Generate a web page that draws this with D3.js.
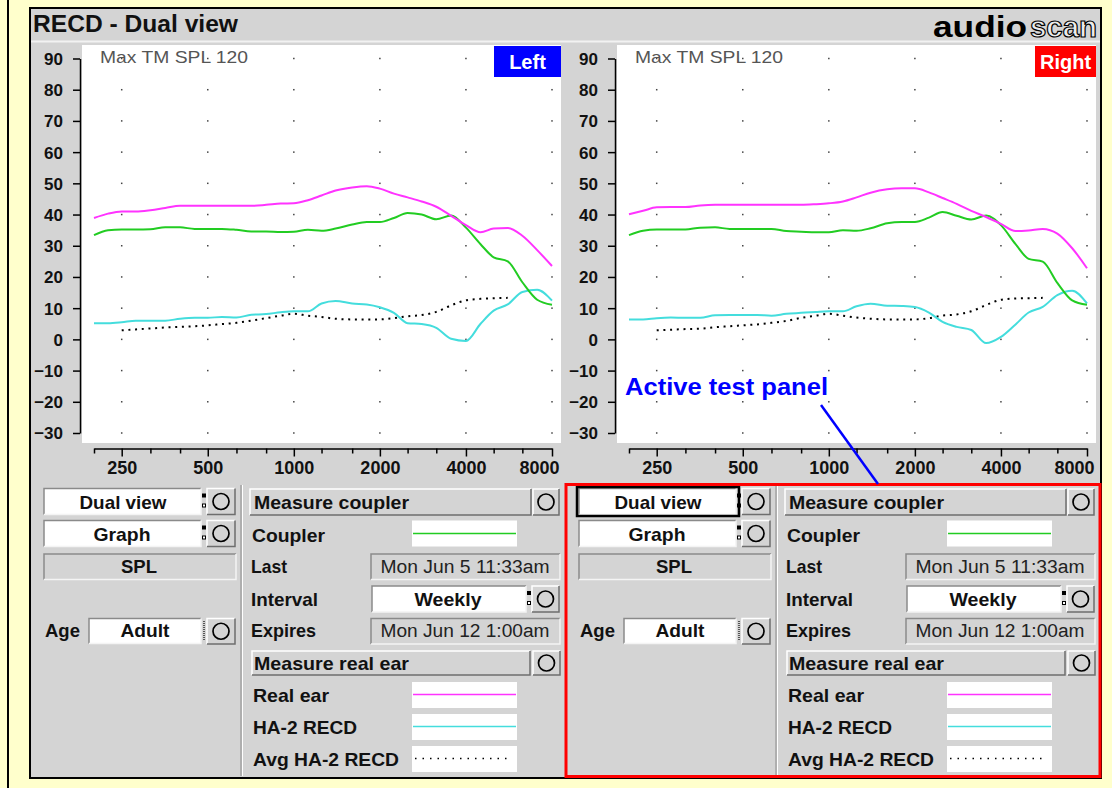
<!DOCTYPE html>
<html>
<head>
<meta charset="utf-8">
<script src="https://cdn.jsdelivr.net/npm/d3@7"></script>
<style>
  body { margin: 0; background: #ffffcc; }
  text { font-family: "Liberation Sans", Arial, sans-serif; }
</style>
</head>
<body>
<svg id="chart" width="1112" height="788"></svg>
<script>
// frequencies (Hz), 1/6 octave steps
const freqs = [200, 224, 250, 280, 315, 355, 400, 450, 500, 560, 630, 710, 800, 900, 1000, 1120, 1250,
  1400, 1600, 1800, 2000, 2240, 2500, 2800, 3150, 3550, 4000, 4500, 5000, 5600, 6300, 7100, 8000];

// left ear (dB SPL)
const leftRealEar = [38.9, 40.3, 41.0, 41.0, 41.4, 42.1, 42.8, 42.8, 42.8, 42.8, 42.8, 42.8, 43.1, 43.5, 43.6, 44.6, 46.1,
  47.7, 48.7, 49.1, 48.3, 46.7, 45.5, 44.2, 42.5, 39.6, 36.6, 34.3, 35.5, 35.7, 33.2, 28.6, 23.5];
const leftCoupler = [33.4, 35.0, 35.2, 35.2, 35.3, 35.9, 35.9, 35.4, 35.4, 35.4, 35.1, 34.6, 34.6, 34.4, 34.5, 35.1, 34.8,
  35.5, 36.8, 37.6, 37.6, 38.9, 40.5, 40.0, 38.5, 39.7, 35.8, 30.5, 26.3, 25.0, 18.3, 12.7, 11.1];
const leftRecd = [5.2, 5.2, 5.5, 6.0, 6.0, 6.0, 6.6, 6.9, 6.9, 7.2, 7.0, 7.9, 8.1, 8.7, 9.0, 9.0, 11.5,
  12.3, 11.5, 11.2, 10.3, 8.5, 5.2, 4.9, 3.7, 0.2, -0.5, 5.0, 9.2, 11.2, 15.2, 15.9, 12.4];
const leftAvgRecd = [null, null, 2.9, 3.2, 3.5, 3.8, 4.0, 4.2, 4.5, 4.9, 5.3, 6.0, 6.8, 7.6, 8.2, 7.6, 7.2,
  6.6, 6.4, 6.4, 6.4, 6.8, 7.4, 7.8, 8.8, 10.9, 12.5, 13.0, 13.2, 13.3, null, null, null];

// right ear (dB SPL)
const rightRealEar = [40.1, 41.2, 42.3, 42.4, 42.4, 42.9, 43.1, 43.1, 43.1, 43.1, 43.1, 43.1, 43.1, 43.3, 43.6, 44.2, 45.5,
  47.0, 48.1, 48.4, 48.4, 47.1, 45.3, 43.4, 41.2, 39.2, 37.0, 34.7, 34.9, 35.4, 33.9, 29.2, 22.8];
const rightCoupler = [33.4, 34.8, 35.2, 35.2, 35.2, 35.8, 35.9, 35.4, 35.4, 35.4, 35.4, 34.7, 34.5, 34.3, 34.3, 35.0, 34.8,
  35.6, 37.2, 37.6, 37.6, 39.0, 40.8, 39.6, 38.4, 39.7, 36.6, 30.5, 25.8, 24.9, 18.1, 12.5, 11.1];
const rightRecd = [6.4, 6.4, 6.8, 7.0, 6.9, 6.9, 7.7, 7.8, 7.8, 7.8, 7.6, 8.2, 8.5, 8.8, 9.0, 9.0, 10.6,
  11.4, 10.8, 10.7, 10.4, 8.6, 5.6, 4.0, 3.0, -1.2, 0.8, 4.8, 8.6, 10.4, 14.2, 15.6, 11.5];
const rightAvgRecd = [null, null, 2.9, 3.1, 3.3, 3.4, 3.9, 4.2, 4.5, 4.8, 5.3, 5.9, 6.9, 7.6, 8.2, 7.6, 7.0,
  6.6, 6.4, 6.4, 6.4, 6.8, 7.6, 8.0, 9.0, 11.0, 12.7, 13.1, 13.2, 13.3, null, null, null];

// axis ticks
const yTicks = [90, 80, 70, 60, 50, 40, 30, 20, 10, 0, -10, -20, -30];
const xMajor = [250, 500, 1000, 2000, 4000, 8000];
const xMinor = [200, 315, 400, 630, 800, 1250, 1600, 2500, 3150, 5000, 6300];

const svg = d3.select("#chart");
const GRAY = "#d4d4d4";
const colors = { realEar: "#ff33ff", coupler: "#22cc22", recd: "#44dddd", avg: "#000" };

const x = d3.scaleLog().domain([200, 8000]).range([94, 552]);
const y = d3.scaleLinear().domain([-30, 90]).range([433, 58.5]);
const AXIS_Y = 448.5;

function label(g, px, py, str, o = {}) {
  const t = g.append("text").attr("x", px).attr("y", py).text(str)
    .attr("font-size", o.size || 19)
    .attr("font-weight", o.weight || "bold")
    .attr("fill", o.fill || "#111")
    .attr("text-anchor", o.anchor || "start");
  if (o.len) t.attr("textLength", o.len).attr("lengthAdjust", "spacingAndGlyphs");
  return t;
}

// bevelled boxes
function box(g, bx, by, w, h, fill, raised) {
  g.append("rect").attr("x", bx).attr("y", by).attr("width", w).attr("height", h).attr("fill", fill);
  const hi = raised ? "#ffffff" : "#8a8a8a";
  const lo = raised ? "#6e6e6e" : "#f4f4f4";
  g.append("path").attr("d", `M${bx},${by + h} V${by} H${bx + w}`).attr("stroke", hi).attr("stroke-width", 1.5).attr("fill", "none");
  g.append("path").attr("d", `M${bx + w},${by} V${by + h} H${bx}`).attr("stroke", lo).attr("stroke-width", 1.5).attr("fill", "none");
}

function circleButton(g, bx, by, w, h) {
  box(g, bx, by, w, h, GRAY, true);
  g.append("circle").attr("cx", bx + w / 2).attr("cy", by + h / 2).attr("r", 8)
    .attr("fill", "none").attr("stroke", "#000").attr("stroke-width", 1.7);
}

function colon(g, cx, cy) {
  g.append("rect").attr("x", cx).attr("y", cy - 8).attr("width", 4).attr("height", 4).attr("fill", "#000");
  g.append("rect").attr("x", cx + 0.5).attr("y", cy + 2.5).attr("width", 3).attr("height", 3)
    .attr("fill", "#fff").attr("stroke", "#000").attr("stroke-width", 1);
}

// background frame
svg.append("rect").attr("width", 1112).attr("height", 788).attr("fill", "#ffffcc");
svg.append("rect").attr("x", 7).attr("y", 0).attr("width", 2).attr("height", 788).attr("fill", "#000");
svg.append("rect").attr("x", 30).attr("y", 8).attr("width", 1071).attr("height", 770)
  .attr("fill", GRAY).attr("stroke", "#000").attr("stroke-width", 2);
svg.append("line").attr("x1", 31).attr("x2", 1100).attr("y1", 41.5).attr("y2", 41.5)
  .attr("stroke", "#f2f2f2").attr("stroke-width", 2);

label(svg, 33, 32, "RECD - Dual view", { size: 23, len: 205 });
label(svg, 933, 37, "audio", { size: 30, weight: 900, fill: "#000", len: 94 })
  .attr("font-family", "'DejaVu Sans', sans-serif");
label(svg, 1030, 37, "scan", { size: 30, weight: "bold", fill: "#ececec", len: 67 })
  .attr("font-family", "'DejaVu Sans', sans-serif").attr("stroke", "#000").attr("stroke-width", 1.2);

function drawPanel(dx, side, series, active) {
  const g = svg.append("g").attr("transform", `translate(${dx},0)`);

  // plot background
  g.append("rect").attr("x", 82).attr("y", 45).attr("width", 479).attr("height", 398).attr("fill", "#fff");

  // grid dots
  const dots = [];
  xMajor.forEach(f => yTicks.forEach(v => dots.push([f, v])));
  g.append("g").selectAll("rect").data(dots).enter().append("rect")
    .attr("x", d => x(d[0]) - 0.75).attr("y", d => y(d[1]) - 0.75)
    .attr("width", 1.5).attr("height", 1.5).attr("fill", "#444");

  // y axis
  const ya = g.append("g").attr("transform", "translate(80,0)")
    .call(d3.axisLeft(y).tickValues(yTicks).tickSize(7).tickSizeOuter(0).tickPadding(10));
  ya.select(".domain").attr("stroke", "#000").attr("stroke-width", 1.5);
  ya.selectAll(".tick line").attr("stroke", "#000").attr("stroke-width", 1.5);
  ya.selectAll("text").attr("font-size", 17).attr("font-weight", "bold").attr("fill", "#111")
    .attr("font-family", "'Liberation Sans', Arial, sans-serif").attr("dy", "0.35em");

  // x axis
  const xa = g.append("g").attr("transform", `translate(0,${AXIS_Y})`)
    .call(d3.axisBottom(x).tickValues(xMajor).tickSize(8).tickSizeOuter(0).tickFormat(d3.format("d")));
  xa.select(".domain").attr("stroke", "#000").attr("stroke-width", 1.5);
  xa.selectAll(".tick line").attr("stroke", "#000").attr("stroke-width", 1.5);
  xa.selectAll("text").attr("font-size", 18).attr("font-weight", "bold").attr("fill", "#111")
    .attr("font-family", "'Liberation Sans', Arial, sans-serif").attr("y", 25.5).attr("dy", 0);
  // last label is kept inside the plot width
  xa.selectAll("text").filter(d => d === 8000).attr("text-anchor", "end").attr("x", 7);
  const xm = g.append("g").attr("transform", `translate(0,${AXIS_Y})`)
    .call(d3.axisBottom(x).tickValues(xMinor).tickSize(5).tickSizeOuter(0).tickFormat(""));
  xm.select(".domain").remove();
  xm.selectAll(".tick line").attr("stroke", "#000").attr("stroke-width", 1.5);

  // curves
  const line = d3.line()
    .defined(d => d[1] !== null)
    .x(d => x(d[0])).y(d => y(d[1]))
    .curve(d3.curveMonotoneX);
  const curves = [
    { vals: series.avg, color: colors.avg, dash: "2,4.7" },
    { vals: series.recd, color: colors.recd },
    { vals: series.coupler, color: colors.coupler },
    { vals: series.realEar, color: colors.realEar }
  ];
  g.append("g").selectAll("path").data(curves).enter().append("path")
    .attr("d", c => line(freqs.map((f, i) => [f, c.vals[i]])))
    .attr("fill", "none")
    .attr("stroke", c => c.color)
    .attr("stroke-width", 2)
    .attr("stroke-dasharray", c => c.dash || null);

  label(g, 100, 63, "Max TM SPL 120", { size: 17, weight: "normal", fill: "#555", len: 148 });

  // side tag
  const tagX = side === "Left" ? 494 : 500;
  g.append("rect").attr("x", tagX).attr("y", 46).attr("width", 561 - tagX).attr("height", 31)
    .attr("fill", side === "Left" ? "#0000ff" : "#ff0000");
  label(g, (tagX + 561) / 2, 69, side, { size: 20, fill: "#fff", anchor: "middle" });

  // controls, left column
  box(g, 44, 488.5, 157, 26, "#fff", false);
  label(g, 123, 508.5, "Dual view", { anchor: "middle", len: 87 });
  colon(g, 202, 501.5);
  circleButton(g, 207, 488.5, 28, 26);
  if (active) {
    g.append("rect").attr("x", 42).attr("y", 487).attr("width", 162).attr("height", 29)
      .attr("fill", "none").attr("stroke", "#000").attr("stroke-width", 2.5);
  }

  box(g, 44, 520.5, 157, 26, "#fff", false);
  label(g, 122, 540.5, "Graph", { anchor: "middle", len: 57 });
  colon(g, 202, 533.5);
  circleButton(g, 207, 520.5, 28, 26);

  box(g, 44, 554, 192, 25.5, GRAY, false);
  label(g, 139, 573, "SPL", { anchor: "middle", len: 36 });

  label(g, 45, 637, "Age", { len: 35 });
  box(g, 89, 618.5, 112, 25, "#fff", false);
  label(g, 145, 637, "Adult", { anchor: "middle", len: 49 });
  g.append("line").attr("x1", 204).attr("x2", 204).attr("y1", 621).attr("y2", 641)
    .attr("stroke", "#555").attr("stroke-width", 2).attr("stroke-dasharray", "1,1");
  circleButton(g, 207, 618.5, 28, 25.5);

  g.append("line").attr("x1", 241).attr("x2", 241).attr("y1", 485).attr("y2", 776).attr("stroke", "#8a8a8a");
  g.append("line").attr("x1", 242.5).attr("x2", 242.5).attr("y1", 485).attr("y2", 776).attr("stroke", "#fff");

  // controls, right column
  box(g, 250, 489, 281, 26, GRAY, true);
  label(g, 254, 508.5, "Measure coupler", { len: 155 });
  circleButton(g, 533, 489, 26, 26);

  label(g, 252, 541.5, "Coupler", { len: 73 });
  g.append("rect").attr("x", 412).attr("y", 520.5).attr("width", 105).attr("height", 26).attr("fill", "#fff");
  g.append("line").attr("x1", 413).attr("x2", 516).attr("y1", 533.5).attr("y2", 533.5)
    .attr("stroke", colors.coupler).attr("stroke-width", 1.5);

  label(g, 251, 573, "Last", { len: 36 });
  box(g, 371, 554, 189, 25.5, GRAY, false);
  label(g, 465, 573, "Mon Jun 5 11:33am", { weight: "normal", size: 18, fill: "#222", anchor: "middle", len: 169 });

  label(g, 251, 605.5, "Interval", { len: 67 });
  box(g, 372, 586, 154, 26, "#fff", false);
  label(g, 448, 605.5, "Weekly", { anchor: "middle", len: 67 });
  colon(g, 527, 599);
  circleButton(g, 532, 586, 27, 26);

  label(g, 251, 637, "Expires", { len: 65 });
  box(g, 371, 618.5, 189, 25.5, GRAY, false);
  label(g, 465, 637, "Mon Jun 12 1:00am", { weight: "normal", size: 18, fill: "#222", anchor: "middle", len: 169 });

  box(g, 252, 651, 278, 24, GRAY, true);
  label(g, 254, 669.5, "Measure real ear", { len: 155 });
  circleButton(g, 533, 651, 27, 24);

  const legendRows = [
    { name: "Real ear", len: 76, y: 682, color: colors.realEar },
    { name: "HA-2 RECD", len: 104, y: 714, color: colors.recd },
    { name: "Avg HA-2 RECD", len: 146, y: 746, color: colors.avg, dash: "1.5,6" }
  ];
  legendRows.forEach(r => {
    label(g, 253, r.y + 20, r.name, { len: r.len });
    g.append("rect").attr("x", 412).attr("y", r.y).attr("width", 105).attr("height", 26).attr("fill", "#fff");
    g.append("line").attr("x1", r.dash ? 415 : 413).attr("x2", r.dash ? 512 : 516)
      .attr("y1", r.y + 12.5).attr("y2", r.y + 12.5)
      .attr("stroke", r.color).attr("stroke-width", r.dash ? 1.3 : 1.5)
      .attr("stroke-dasharray", r.dash || null);
  });
}

drawPanel(0, "Left", { realEar: leftRealEar, coupler: leftCoupler, recd: leftRecd, avg: leftAvgRecd }, false);
drawPanel(535, "Right", { realEar: rightRealEar, coupler: rightCoupler, recd: rightRecd, avg: rightAvgRecd }, true);

// active panel highlight + annotation
svg.append("rect").attr("x", 566).attr("y", 484.5).attr("width", 534).attr("height", 292)
  .attr("fill", "none").attr("stroke", "#ff0000").attr("stroke-width", 3);
label(svg, 625, 395, "Active test panel", { size: 24, fill: "#0000ff", len: 203 });
svg.append("line").attr("x1", 821).attr("y1", 405).attr("x2", 878).attr("y2", 484)
  .attr("stroke", "#0000ff").attr("stroke-width", 2.5);
</script>
</body>
</html>
